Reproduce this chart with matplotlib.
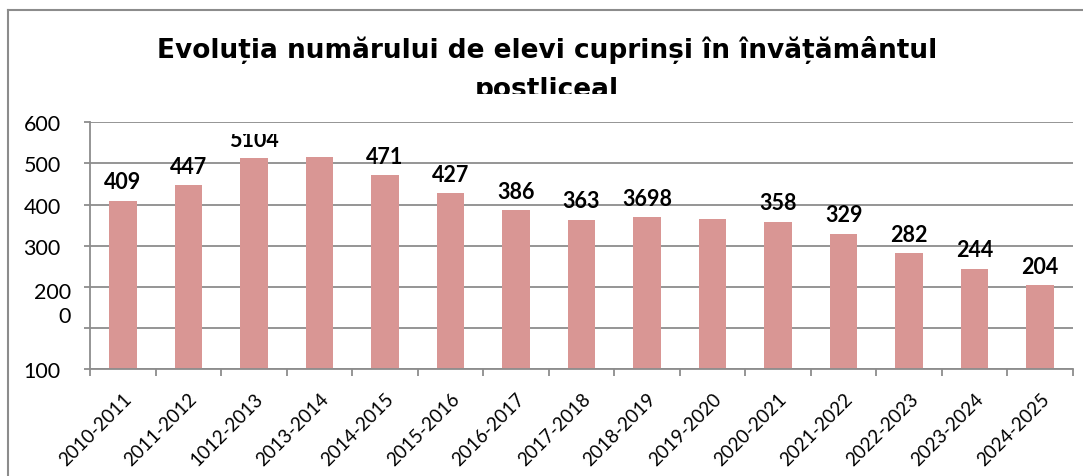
import matplotlib
matplotlib.use("Agg")
import matplotlib.pyplot as plt
from matplotlib.patches import Rectangle
from matplotlib.lines import Line2D
from matplotlib.transforms import Bbox, TransformedBbox

# date
ani = ["2010-2011", "2011-2012", "1012-2013", "2013-2014", "2014-2015",
       "2015-2016", "2016-2017", "2017-2018", "2018-2019", "2019-2020",
       "2020-2021", "2021-2022", "2022-2023", "2023-2024", "2024-2025"]
elevi = [409, 447, 512, 516, 471, 427, 386, 363, 370, 364, 358, 329, 282, 244, 204]
etichete = ["409", "447", "5104", None, "471", "427", "386", "363", "3698", None,
            "358", "329", "282", "244", "204"]
y_ticks = [0, 100, 200, 300, 400, 500, 600]
y_labels = ["100", "", "", "300", "400", "500", "600"]

W, H = 1083, 477
fig = plt.figure(figsize=(W / 100, H / 100), dpi=100)
ax = fig.add_axes([90 / W, 1 - 370 / H, (1073 - 90) / W, (370 - 123.3) / H])

culoare = "#D99694"
gri = "#8c8c8c"
x = list(range(len(ani)))
bare = ax.bar(x, elevi, width=0.42, color=culoare, zorder=2)

# etichetele sunt taiate sus (ca "5104" din original)
clip = TransformedBbox(Bbox.from_extents(0, 0, 1, 1 - 135 / H), fig.transFigure)
for b, et in zip(bare, etichete):
    if et is None:
        continue
    t = ax.annotate(et, (b.get_x() + b.get_width() / 2, b.get_height()),
                    xytext=(0, 6), textcoords="offset points", ha="center", va="bottom",
                    fontsize=15.5, fontweight="bold", family="Lato")
    t.set_clip_box(clip)
    t.set_clip_on(True)

ax.set_xlim(-0.5, len(ani) - 0.5)
ax.set_ylim(0, 600)
ax.set_yticks(y_ticks)
ax.set_yticklabels(y_labels, family="Lato", fontsize=15.5)
ax.yaxis.grid(True, color=gri, linewidth=1.3, zorder=0)
ax.set_axisbelow(True)

ax.set_xticks(x)
ax.set_xticklabels(ani, family="Lato", fontsize=13.5)
plt.setp(ax.get_xticklabels(), rotation=45, ha="right", rotation_mode="anchor")
ax.set_xticks([i - 0.5 for i in range(len(ani) + 1)], minor=True)
ax.tick_params(axis="x", which="major", length=0, pad=15)
ax.tick_params(axis="x", which="minor", length=5, color=gri, width=1.3)
ax.tick_params(axis="y", length=4, color=gri, width=1.3, pad=17)

for s in ["top", "right"]:
    ax.spines[s].set_visible(False)
for s in ["left", "bottom"]:
    ax.spines[s].set_color(gri)
    ax.spines[s].set_linewidth(1.3)

# eticheta ciudata de pe axa y
fig.text(70.7 / W, 1 - 305 / H, "200\n0", ha="right", va="center",
         family="Lato", fontsize=15.5, linespacing=1.3)

# titlu
fig.text(0.505, 1 - 58 / H, "Evoluția numărului de elevi cuprinși în învățământul",
         ha="center", va="baseline", fontsize=19, fontweight="bold",
         family="DejaVu Sans")
fig.text(0.505, 1 - 97 / H, "postliceal", ha="center", va="baseline", fontsize=19,
         fontweight="bold", family="DejaVu Sans")
fig.patches.append(Rectangle((100 / W, 1 - 113 / H), 850 / W, 18 / H,
                             transform=fig.transFigure, facecolor="white",
                             edgecolor="none", zorder=5))

# chenar
fig.lines.append(Line2D([8 / W, 1], [1 - 11 / H, 1 - 11 / H], transform=fig.transFigure,
                        color=gri, linewidth=1.5))
fig.lines.append(Line2D([8 / W, 8 / W], [0, 1 - 11 / H], transform=fig.transFigure,
                        color=gri, linewidth=1.5))

fig.savefig("out.png", dpi=100)
